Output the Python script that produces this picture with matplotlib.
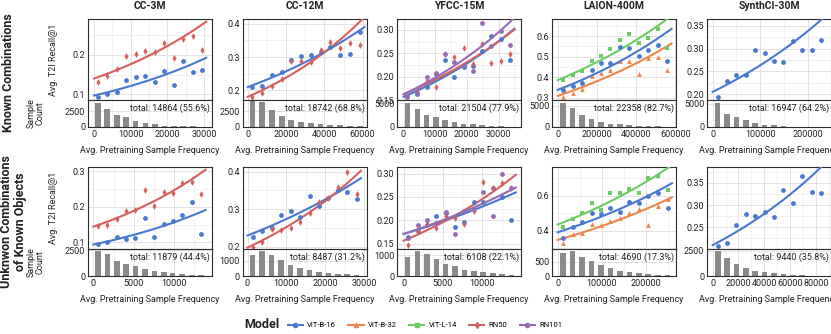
from __future__ import annotations

import numpy as np
import matplotlib
matplotlib.use("Agg")
import matplotlib.pyplot as plt
from matplotlib.lines import Line2D
from matplotlib.ticker import MultipleLocator, AutoMinorLocator

plt.rcParams["font.family"] = ["Roboto", "DejaVu Sans"]
plt.rcParams["font.size"] = 6.5

# -----------------------------------------------------------------------------
# Data
# -----------------------------------------------------------------------------

MODELS = ["VIT-B-16", "VIT-B-32", "VIT-L-14", "RN50", "RN101"]
DATASETS = ["CC-3M", "CC-12M", "YFCC-15M", "LAION-400M", "SynthCI-30M"]
ROW_LABELS = ["Known Combinations", "Unknwon Combinations\nof Known Objects"]

# --- row 1: known combinations ---
cc3m_known_x = [1000, 3600, 6200, 8700, 11300, 14000, 16600, 19200, 21700, 24200, 26900, 29400]
cc3m_known_vitb16 = [0.094, 0.100, 0.106, 0.136, 0.144, 0.147, 0.132, 0.160, 0.124, 0.185, 0.156, 0.161]
cc3m_known_rn50 = [0.131, 0.147, 0.164, 0.197, 0.203, 0.211, 0.207, 0.231, 0.193, 0.241, 0.248, 0.213]
cc3m_known_counts = [3700, 2760, 1830, 1510, 980, 570, 470, 200, 150, 100, 80, 50]

cc12m_known_x = [2500, 7600, 12700, 17700, 22800, 27800, 32900, 38000, 43000, 48300, 53500, 58600]
cc12m_known_vitb16 = [0.208, 0.213, 0.245, 0.256, 0.290, 0.304, 0.305, 0.315, 0.330, 0.305, 0.310, 0.376]
cc12m_known_rn50 = [0.180, 0.190, 0.212, 0.235, 0.288, 0.288, 0.285, 0.320, 0.345, 0.327, 0.342, 0.335]
cc12m_known_counts = [4100, 3940, 2670, 1815, 1080, 790, 560, 450, 350, 250, 150, 100]

yfcc_known_x = [1250, 4375, 7300, 10200, 13100, 16050, 18970, 21850, 24800, 27740, 30720, 33660]
yfcc_known_vitb16 = [0.156, 0.162, 0.177, 0.206, 0.236, 0.199, 0.221, 0.222, 0.255, 0.287, 0.280, 0.235]
yfcc_known_rn50 = [0.157, 0.168, 0.191, 0.178, 0.248, 0.241, 0.262, 0.226, 0.270, 0.229, 0.233, 0.249]
yfcc_known_rn101 = [0.158, 0.165, 0.200, 0.208, 0.248, 0.232, 0.225, 0.212, 0.315, 0.265, 0.297, 0.268]
yfcc_known_counts = [5000, 3810, 2560, 2080, 1520, 960, 690, 620, 350, 250, 150, 100]

laion_known_x = [28000, 76000, 124000, 173000, 221000, 269000, 317000, 365000, 413000, 462000, 510000, 558000]
laion_known_vitb16 = [0.338, 0.357, 0.370, 0.435, 0.467, 0.467, 0.548, 0.540, 0.503, 0.532, 0.557, 0.478]
laion_known_vitb32 = [0.305, 0.322, 0.341, 0.406, 0.422, 0.435, 0.478, 0.478, 0.414, 0.495, 0.500, 0.435]
laion_known_vitl14 = [0.385, 0.410, 0.430, 0.478, 0.503, 0.535, 0.580, 0.608, 0.565, 0.592, 0.635, 0.544]
laion_known_counts = [5630, 4370, 2890, 1880, 1240, 770, 610, 450, 300, 200, 150, 100]

synth_known_x = [10600, 30500, 50200, 70000, 89800, 109500, 129300, 149200, 168900, 188600, 208500, 228800]
synth_known_vitb16 = [0.195, 0.230, 0.242, 0.242, 0.296, 0.291, 0.274, 0.270, 0.316, 0.296, 0.296, 0.320]
synth_known_counts = [5280, 2850, 2060, 1420, 860, 490, 350, 210, 60, 30, 20, 10]

known_totals = ["total: 14864 (55.6%)", "total: 18742 (68.8%)", "total: 21504 (77.9%)",
                "total: 22358 (82.7%)", "total: 16947 (64.2%)"]

# --- row 2: unknown combinations of known objects ---
cc3m_unk_x = [545, 1735, 2900, 4050, 5200, 6400, 7560, 8720, 9790, 10990, 12190, 13340]
cc3m_unk_vitb16 = [0.094, 0.102, 0.114, 0.110, 0.113, 0.168, 0.115, 0.152, 0.160, 0.177, 0.214, 0.124]
cc3m_unk_rn50 = [0.147, 0.150, 0.165, 0.187, 0.191, 0.248, 0.202, 0.241, 0.240, 0.267, 0.270, 0.236]
cc3m_unk_counts = [2400, 2115, 1470, 1150, 960, 640, 480, 350, 250, 150, 100, 60]

cc12m_unk_x = [1300, 3750, 6200, 8640, 11070, 13500, 15970, 18400, 20840, 23300, 25700, 28100]
cc12m_unk_vitb16 = [0.225, 0.242, 0.251, 0.285, 0.296, 0.280, 0.336, 0.307, 0.330, 0.350, 0.346, 0.328]
cc12m_unk_rn50 = [0.200, 0.213, 0.246, 0.245, 0.249, 0.267, 0.290, 0.320, 0.330, 0.360, 0.400, 0.340]
cc12m_unk_counts = [1350, 1630, 1350, 1045, 740, 500, 390, 280, 200, 150, 100, 70]

yfcc_unk_x = [510, 1790, 2990, 4170, 5350, 6560, 7740, 8930, 10130, 11360, 12560, 13740]
yfcc_unk_vitb16 = [0.165, 0.178, 0.190, 0.210, 0.215, 0.185, 0.197, 0.240, 0.240, 0.270, 0.250, 0.200]
yfcc_unk_rn50 = [0.148, 0.177, 0.193, 0.184, 0.209, 0.206, 0.193, 0.221, 0.281, 0.270, 0.280, 0.270]
yfcc_unk_rn101 = [0.163, 0.190, 0.200, 0.195, 0.218, 0.172, 0.220, 0.225, 0.260, 0.210, 0.300, 0.270]
yfcc_unk_counts = [900, 1220, 1050, 805, 580, 500, 290, 255, 200, 150, 100, 60]

laion_unk_x = [12400, 33600, 54900, 76400, 97700, 119000, 140500, 161800, 183000, 204500, 226000, 248000]
laion_unk_vitb16 = [0.360, 0.423, 0.452, 0.500, 0.496, 0.532, 0.509, 0.563, 0.558, 0.596, 0.615, 0.530]
laion_unk_vitb32 = [0.330, 0.380, 0.385, 0.439, 0.433, 0.456, 0.475, 0.500, 0.524, 0.430, 0.540, 0.580]
laion_unk_vitl14 = [0.420, 0.467, 0.500, 0.558, 0.519, 0.615, 0.615, 0.640, 0.615, 0.700, 0.715, 0.632]
laion_unk_counts = [815, 875, 654, 514, 374, 280, 175, 130, 100, 60, 40, 20]

synth_unk_x = [3900, 11200, 18400, 25700, 33000, 40200, 47500, 54800, 62000, 69200, 76600, 84000]
synth_unk_vitb16 = [0.207, 0.215, 0.255, 0.279, 0.275, 0.285, 0.273, 0.335, 0.304, 0.366, 0.329, 0.327]
synth_unk_counts = [2470, 1810, 1155, 820, 525, 360, 260, 200, 100, 50, 30, 10]

unk_totals = ["total: 11879 (44.4%)", "total: 8487 (31.2%)", "total: 6108 (22.1%)",
              "total: 4690 (17.3%)", "total: 9440 (35.8%)"]

# -----------------------------------------------------------------------------
# Style
# -----------------------------------------------------------------------------

COLORS = {
    "VIT-B-16": "#4878d0",
    "VIT-B-32": "#ee854a",
    "VIT-L-14": "#6acc64",
    "RN50": "#d65f5f",
    "RN101": "#956cb4",
}
MARKERS = {"VIT-B-16": "o", "VIT-B-32": "^", "VIT-L-14": "s", "RN50": "d", "RN101": "o"}
ZORDER = {"VIT-L-14": 3, "VIT-B-32": 3, "VIT-B-16": 4, "RN50": 4, "RN101": 5}

W, H = 831, 334
COL_LEFT = [88, 242.5, 397, 552, 707]
COL_W = 124
# (main top, main bottom, count bottom) in pixels from the top
ROW_Y = [(19, 100, 127), (167, 249, 276)]

# per-panel axis settings: xlim, xstep, ylim, ystep, count max, count step
KNOWN_AX = [
    ((-1650, 32150), 10000, (0.0855, 0.2916), 0.1, 4220, 2500),
    ((-2700, 62000), 20000, (0.170, 0.415), 0.1, 4270, 2500),
    ((-2060, 37100), 10000, (0.150, 0.3234), 0.05, 5700, 5000),
    ((-29000, 603000), 200000, (0.289, 0.683), 0.1, 6340, 5000),
    ((-11900, 249400), 100000, (0.1875, 0.365), 0.05, 5850, 5000),
]
UNK_AX = [
    ((-660, 14670), 5000, (0.081, 0.3125), 0.1, 2600, 2500),
    ((-1300, 30650), 10000, (0.194, 0.412), 0.1, 1760, 1000),
    ((-840, 14950), 5000, (0.139, 0.314), 0.05, 1300, 1000),
    ((-12800, 267000), 100000, (0.295, 0.765), 0.2, 944, 500),
    ((-4360, 91600), 20000, (0.2005, 0.386), 0.05, 2680, 2500),
]


def px_rect(left, top, width, height):
    """Pixel box (from top-left) -> figure fraction rect."""
    return [left / W, 1 - (top + height) / H, width / W, height / H]


def style_axes(ax):
    ax.set_facecolor("white")
    for sp in ax.spines.values():
        sp.set_color("#2b2b2b")
        sp.set_linewidth(0.8)
    ax.grid(True, which="major", color="#e3e3e3", linewidth=0.7, zorder=0)
    ax.grid(True, which="minor", color="#efefef", linewidth=0.6, zorder=0)
    ax.set_axisbelow(True)
    ax.tick_params(which="both", length=0, pad=2, labelsize=6.5, colors="#222222")


def draw_panel(fig, row, col, x, series, counts, total, settings):
    """Scatter + exponential fit on top, histogram of counts underneath."""
    xlim, xstep, ylim, ystep, cmax, cstep = settings
    top, mid, bot = ROW_Y[row]
    left = COL_LEFT[col]

    ax = fig.add_axes(px_rect(left, top, COL_W, mid - top))
    axc = fig.add_axes(px_rect(left, mid, COL_W, bot - mid))

    x = np.asarray(x, dtype=float)
    # mild weighting by sample count
    w = np.asarray(counts, dtype=float) ** 0.25
    xs = np.linspace(0, x[-1] * 1.04, 100)
    for name, y in series.items():
        y = np.asarray(y, dtype=float)
        coef = np.polyfit(x, np.log(y), 1, w=w)
        ax.plot(xs, np.exp(np.polyval(coef, xs)), color=COLORS[name], lw=1.5,
                zorder=ZORDER[name])
        ax.scatter(x, y, s=12, marker=MARKERS[name], color=COLORS[name],
                   linewidths=0, zorder=ZORDER[name] + 1)

    ax.set_xlim(xlim)
    ax.set_ylim(ylim)
    ax.xaxis.set_major_locator(MultipleLocator(xstep))
    ax.xaxis.set_minor_locator(AutoMinorLocator(2))
    ax.yaxis.set_major_locator(MultipleLocator(ystep))
    ax.yaxis.set_minor_locator(AutoMinorLocator(2))
    ax.tick_params(labelbottom=False)
    style_axes(ax)

    width = 0.6 * np.median(np.diff(x))
    axc.bar(x, counts, width=width, color="#8a8a8a", zorder=2)
    axc.set_xlim(xlim)
    axc.set_ylim(0, cmax)
    axc.xaxis.set_major_locator(MultipleLocator(xstep))
    axc.xaxis.set_minor_locator(AutoMinorLocator(2))
    axc.set_yticks([0, cstep])
    style_axes(axc)
    axc.grid(False, which="minor", axis="y")
    axc.text(0.985, 0.70, total, transform=axc.transAxes, ha="right", va="center",
             fontsize=6.5, color="#222222", zorder=5)
    axc.set_xlabel("Avg. Pretraining Sample Frequency", fontsize=6.5, labelpad=5,
                   color="#222222")

    if col == 0:
        ax.set_ylabel("Avg. T2I Recall@1", fontsize=6.5, color="#222222")
        ax.yaxis.set_label_coords(-0.245, 0.5)
        axc.set_ylabel("Sample\nCount", fontsize=6.5, color="#222222", linespacing=1.0)
        axc.yaxis.set_label_coords(-0.35, 0.5)
    return ax, axc


def main():
    fig = plt.figure(figsize=(W / 100, H / 100), dpi=100)

    known = [
        (cc3m_known_x, {"VIT-B-16": cc3m_known_vitb16, "RN50": cc3m_known_rn50}, cc3m_known_counts),
        (cc12m_known_x, {"VIT-B-16": cc12m_known_vitb16, "RN50": cc12m_known_rn50}, cc12m_known_counts),
        (yfcc_known_x, {"VIT-B-16": yfcc_known_vitb16, "RN50": yfcc_known_rn50,
                        "RN101": yfcc_known_rn101}, yfcc_known_counts),
        (laion_known_x, {"VIT-L-14": laion_known_vitl14, "VIT-B-32": laion_known_vitb32,
                         "VIT-B-16": laion_known_vitb16}, laion_known_counts),
        (synth_known_x, {"VIT-B-16": synth_known_vitb16}, synth_known_counts),
    ]
    unknown = [
        (cc3m_unk_x, {"VIT-B-16": cc3m_unk_vitb16, "RN50": cc3m_unk_rn50}, cc3m_unk_counts),
        (cc12m_unk_x, {"VIT-B-16": cc12m_unk_vitb16, "RN50": cc12m_unk_rn50}, cc12m_unk_counts),
        (yfcc_unk_x, {"VIT-B-16": yfcc_unk_vitb16, "RN50": yfcc_unk_rn50,
                      "RN101": yfcc_unk_rn101}, yfcc_unk_counts),
        (laion_unk_x, {"VIT-L-14": laion_unk_vitl14, "VIT-B-32": laion_unk_vitb32,
                       "VIT-B-16": laion_unk_vitb16}, laion_unk_counts),
        (synth_unk_x, {"VIT-B-16": synth_unk_vitb16}, synth_unk_counts),
    ]

    for col, (x, series, counts) in enumerate(known):
        draw_panel(fig, 0, col, x, series, counts, known_totals[col], KNOWN_AX[col])
    for col, (x, series, counts) in enumerate(unknown):
        draw_panel(fig, 1, col, x, series, counts, unk_totals[col], UNK_AX[col])

    # column titles
    for col, name in enumerate(DATASETS):
        fig.text((COL_LEFT[col] + COL_W / 2) / W, 1 - 6 / H, name, ha="center",
                 va="center", fontsize=7.5, fontweight="bold", color="#222222")

    # row labels
    fig.text(9 / W, 1 - 73 / H, ROW_LABELS[0], rotation=90, ha="center", va="center",
             fontsize=9, fontweight="bold", color="#222222")
    fig.text(14 / W, 1 - 222 / H, ROW_LABELS[1], rotation=90, ha="center", va="center",
             fontsize=9, fontweight="bold", color="#222222", linespacing=1.1,
             multialignment="center")

    # legend
    handles = [Line2D([0], [0], color=COLORS[m], marker=MARKERS[m], markersize=3,
                      lw=1.5) for m in MODELS]
    fig.text(262 / W, 1 - 325 / H, "Model", ha="center", va="center", fontsize=9,
             fontweight="bold", color="#222222")
    fig.legend(handles, MODELS, loc="center", bbox_to_anchor=(425 / W, 1 - 325 / H),
               ncol=5, frameon=False, fontsize=5.5, handlelength=2.0,
               handletextpad=0.55, columnspacing=1.6)

    fig.savefig("out.png", dpi=100)


if __name__ == "__main__":
    main()
